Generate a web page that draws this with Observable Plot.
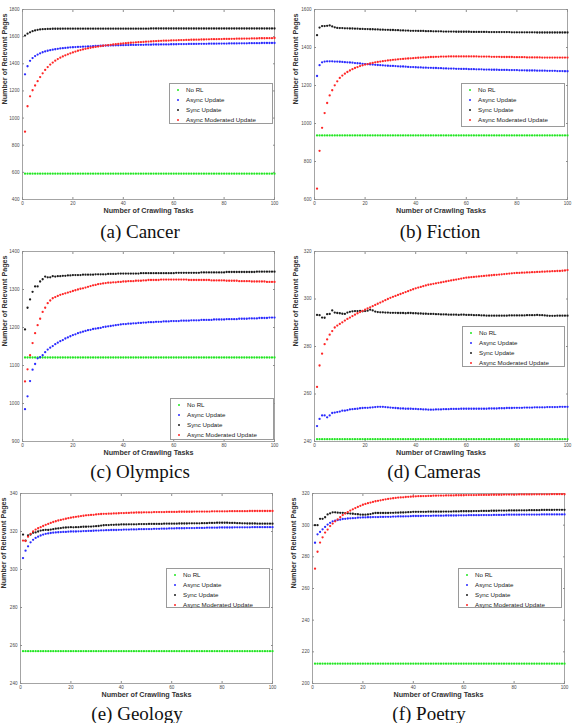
<!DOCTYPE html>
<html><head><meta charset="utf-8">
<script src="https://cdn.jsdelivr.net/npm/d3@7"></script>
<script src="https://cdn.jsdelivr.net/npm/@observablehq/plot@0.6"></script>
<style>
body{margin:0;background:#fff;}
#root{position:relative;width:573px;height:723px;overflow:hidden;font-family:"Liberation Sans",Arial,sans-serif;}
.cell{position:absolute;}
.cell svg{display:block;overflow:visible;}
.legend{position:absolute;background:#fff;border:1px solid #9a9a9a;box-sizing:border-box;font-size:6.2px;color:#222;}
.legend .item{position:absolute;left:0;white-space:nowrap;line-height:8px;height:8px;}
.legend .dot{position:absolute;width:2.4px;height:2.4px;border-radius:50%;top:2.8px;}
.legend .lab{position:absolute;top:0;}
.caption{position:absolute;font-family:"Liberation Serif","Times New Roman",serif;font-size:19px;color:#111;white-space:nowrap;transform:translateX(-50%);line-height:20px;}
</style>
</head><body><div id="root"></div>
<script>
const seriesNames = ["No RL", "Async Update", "Sync Update", "Async Moderated Update"];
const seriesColors = ["#22e622", "#2a2aff", "#1c1c1c", "#ff2626"];
const xTicks = [0, 20, 40, 60, 80, 100];
const captions = ["(a) Cancer", "(b) Fiction", "(c) Olympics", "(d) Cameras", "(e) Geology", "(f) Poetry"];
const yTicksCancer = [400, 600, 800, 1000, 1200, 1400, 1600, 1800];
const yTicksFiction = [600, 800, 1000, 1200, 1400, 1600];
const yTicksOlympics = [900, 1000, 1100, 1200, 1300, 1400];
const yTicksCameras = [240, 260, 280, 300, 320];
const yTicksGeology = [240, 260, 280, 300, 320, 340];
const yTicksPoetry = [200, 220, 240, 260, 280, 300, 320];

// (a) Cancer
const cancerNoRL = [590,590,590,590,590,590,590,590,590,590, 590,590,590,590,590,590,590,590,590,590, 590,590,590,590,590,590,590,590,590,590, 590,590,590,590,590,590,590,590,590,590, 590,590,590,590,590,590,590,590,590,590, 590,590,590,590,590,590,590,590,590,590, 590,590,590,590,590,590,590,590,590,590, 590,590,590,590,590,590,590,590,590,590, 590,590,590,590,590,590,590,590,590,590, 590,590,590,590,590,590,590,590,590,590];
const cancerAsync = [1322,1382,1422,1442,1457,1468,1477,1485,1491,1496, 1500,1504,1507,1510,1513,1515,1517,1519,1521,1522, 1523,1524,1525,1526,1527,1528,1529,1530,1531,1532, 1533,1533,1534,1534,1535,1535,1536,1536,1537,1537, 1538,1538,1539,1539,1539,1540,1540,1540,1541,1541, 1541,1542,1542,1542,1543,1543,1543,1543,1544,1544, 1544,1545,1545,1545,1545,1546,1546,1546,1546,1547, 1547,1547,1547,1548,1548,1548,1548,1549,1549,1549, 1549,1550,1550,1550,1550,1551,1551,1551,1551,1552, 1552,1552,1552,1552,1553,1553,1553,1553,1553,1553];
const cancerSync = [1608,1622,1632,1640,1646,1650,1653,1655,1656,1657, 1657,1658,1658,1658,1658,1659,1659,1659,1659,1659, 1659,1659,1659,1659,1659,1659,1659,1659,1659,1659, 1659,1659,1659,1659,1659,1659,1659,1659,1659,1659, 1659,1659,1659,1659,1659,1659,1659,1659,1659,1659, 1660,1660,1660,1660,1660,1660,1660,1660,1660,1660, 1660,1660,1660,1660,1660,1660,1660,1660,1660,1660, 1660,1660,1660,1660,1660,1660,1660,1660,1660,1660, 1660,1660,1660,1660,1660,1660,1660,1660,1660,1660, 1660,1660,1660,1660,1660,1660,1660,1660,1660,1660];
const cancerModerated = [900,1087,1160,1205,1240,1272,1302,1330,1355,1376, 1394,1409,1423,1435,1445,1454,1462,1470,1477,1484, 1490,1496,1501,1506,1510,1514,1518,1521,1524,1527, 1530,1533,1536,1538,1540,1542,1544,1546,1548,1550, 1552,1553,1555,1556,1558,1559,1560,1561,1563,1564, 1565,1566,1567,1568,1569,1570,1570,1571,1572,1573, 1573,1574,1575,1575,1576,1576,1577,1577,1578,1578, 1579,1579,1580,1580,1581,1581,1581,1582,1582,1583, 1583,1583,1584,1584,1585,1585,1585,1586,1586,1586, 1587,1587,1587,1588,1588,1588,1589,1589,1589,1590];

// (b) Fiction
const fictionNoRL = [937,937,937,937,937,937,937,937,937,937, 937,937,937,937,937,937,937,937,937,937, 937,937,937,937,937,937,937,937,937,937, 937,937,937,937,937,937,937,937,937,937, 937,937,937,937,937,937,937,937,937,937, 937,937,937,937,937,937,937,937,937,937, 937,937,937,937,937,937,937,937,937,937, 937,937,937,937,937,937,937,937,937,937, 937,937,937,937,937,937,937,937,937,937, 937,937,937,937,937,937,937,937,937,937];
const fictionAsync = [1250,1307,1322,1326,1327,1327,1327,1326,1326,1325, 1324,1323,1322,1321,1320,1318,1317,1316,1314,1313, 1312,1311,1310,1309,1308,1307,1306,1305,1304,1303, 1303,1302,1301,1300,1300,1299,1298,1297,1297,1296, 1295,1295,1294,1294,1293,1293,1292,1292,1291,1291, 1290,1290,1289,1289,1289,1288,1288,1287,1287,1287, 1286,1286,1286,1285,1285,1285,1284,1284,1284,1283, 1283,1283,1282,1282,1282,1282,1281,1281,1281,1281, 1280,1280,1280,1279,1279,1279,1279,1278,1278,1278, 1278,1277,1277,1277,1277,1276,1276,1276,1275,1275];
const fictionSync = [1465,1505,1513,1513,1514,1516,1511,1506,1503,1502, 1502,1501,1501,1500,1500,1499,1499,1498,1498,1497, 1497,1496,1496,1495,1495,1494,1494,1493,1493,1492, 1492,1491,1491,1490,1490,1489,1489,1488,1488,1488, 1487,1487,1487,1486,1486,1486,1485,1485,1485,1485, 1484,1484,1484,1484,1484,1483,1483,1483,1483,1483, 1483,1482,1482,1482,1482,1482,1482,1482,1481,1481, 1481,1481,1481,1481,1481,1481,1481,1480,1480,1480, 1480,1480,1480,1480,1480,1480,1480,1479,1479,1479, 1479,1479,1479,1479,1479,1479,1479,1479,1479,1479];
const fictionModerated = [657,856,977,1055,1108,1148,1175,1201,1222,1240, 1252,1262,1271,1279,1286,1292,1297,1302,1306,1310, 1313,1316,1319,1322,1324,1326,1328,1330,1332,1333, 1335,1336,1338,1339,1340,1341,1342,1343,1344,1345, 1346,1347,1348,1348,1349,1350,1350,1351,1351,1352, 1352,1352,1353,1353,1353,1353,1353,1353,1353,1353, 1353,1353,1353,1353,1352,1352,1352,1352,1352,1351, 1351,1351,1351,1350,1350,1350,1350,1350,1349,1349, 1349,1349,1349,1348,1348,1348,1348,1348,1348,1347, 1347,1347,1347,1347,1347,1347,1347,1347,1347,1347];

// (c) Olympics
const olympicsNoRL = [1121,1121,1121,1121,1121,1121,1121,1121,1121,1121, 1121,1121,1121,1121,1121,1121,1121,1121,1121,1121, 1121,1121,1121,1121,1121,1121,1121,1121,1121,1121, 1121,1121,1121,1121,1121,1121,1121,1121,1121,1121, 1121,1121,1121,1121,1121,1121,1121,1121,1121,1121, 1121,1121,1121,1121,1121,1121,1121,1121,1121,1121, 1121,1121,1121,1121,1121,1121,1121,1121,1121,1121, 1121,1121,1121,1121,1121,1121,1121,1121,1121,1121, 1121,1121,1121,1121,1121,1121,1121,1121,1121,1121, 1121,1121,1121,1121,1121,1121,1121,1121,1121,1121];
const olympicsAsync = [985,1019,1059,1089,1104,1119,1122,1127,1135,1142, 1147,1151,1156,1160,1164,1167,1171,1174,1177,1180, 1182,1185,1187,1189,1191,1193,1194,1196,1197,1198, 1199,1201,1202,1203,1204,1205,1206,1207,1208,1209, 1209,1210,1210,1211,1211,1212,1212,1213,1213,1214, 1214,1214,1215,1215,1215,1216,1216,1216,1217,1217, 1217,1217,1218,1218,1218,1218,1219,1219,1219,1219, 1220,1220,1220,1220,1220,1221,1221,1221,1221,1221, 1222,1222,1222,1222,1222,1223,1223,1223,1223,1224, 1224,1224,1224,1225,1225,1225,1225,1226,1226,1226];
const olympicsSync = [1195,1252,1274,1294,1308,1308,1321,1327,1334,1332, 1332,1335,1334,1335,1335,1336,1336,1337,1337,1338, 1338,1338,1338,1339,1339,1339,1339,1339,1340,1340, 1340,1340,1340,1341,1341,1341,1341,1342,1342,1342, 1342,1342,1342,1342,1342,1342,1343,1343,1343,1343, 1343,1343,1343,1343,1343,1343,1343,1343,1343,1343, 1344,1344,1344,1344,1344,1344,1344,1344,1344,1344, 1345,1345,1345,1345,1345,1345,1345,1345,1345,1345, 1346,1346,1346,1346,1346,1346,1346,1346,1346,1346, 1346,1346,1347,1347,1347,1347,1347,1347,1347,1347];
const olympicsModerated = [1058,1090,1127,1159,1185,1206,1223,1241,1252,1264, 1271,1277,1280,1283,1286,1288,1290,1292,1294,1296, 1298,1300,1302,1303,1305,1307,1309,1311,1312,1314, 1315,1316,1317,1318,1318,1319,1319,1320,1320,1321, 1321,1322,1322,1322,1323,1323,1323,1324,1324,1325, 1325,1325,1325,1325,1326,1326,1326,1326,1326,1326, 1326,1326,1326,1326,1326,1325,1325,1325,1325,1325, 1325,1325,1325,1325,1324,1324,1324,1324,1324,1324, 1323,1323,1323,1323,1323,1322,1322,1322,1322,1322, 1321,1321,1321,1321,1321,1321,1320,1320,1320,1320];

// (d) Cameras
const camerasNoRL = [241,241,241,241,241,241,241,241,241,241, 241,241,241,241,241,241,241,241,241,241, 241,241,241,241,241,241,241,241,241,241, 241,241,241,241,241,241,241,241,241,241, 241,241,241,241,241,241,241,241,241,241, 241,241,241,241,241,241,241,241,241,241, 241,241,241,241,241,241,241,241,241,241, 241,241,241,241,241,241,241,241,241,241, 241,241,241,241,241,241,241,241,241,241, 241,241,241,241,241,241,241,241,241,241];
const camerasAsync = [246.5,249.5,251,251,250.2,251,252,252.2,252.4,252.6, 253,253,253.2,253.5,253.6,253.7,253.8,254,254.1,254.2, 254.2,254.3,254.4,254.5,254.6,254.6,254.6,254.5,254.4,254.3, 254.2,254.1,254,253.9,253.9,253.8,253.8,253.8,253.7,253.7, 253.6,253.6,253.5,253.5,253.4,253.4,253.4,253.5,253.5,253.5, 253.6,253.6,253.6,253.7,253.7,253.7,253.7,253.8,253.8,253.8, 253.8,253.8,253.8,253.8,253.8,253.8,253.8,253.8,253.9,253.9, 253.9,253.9,254,254,254,254.1,254.1,254.1,254.2,254.2, 254.2,254.2,254.3,254.3,254.3,254.3,254.4,254.4,254.4,254.4, 254.4,254.5,254.5,254.5,254.5,254.5,254.6,254.6,254.6,254.6];
const camerasSync = [293.3,293.2,292.2,292.1,293.6,293.7,295.2,294.3,294.1,294, 293.8,293.7,294.3,294.6,294.8,294.9,294.9,295,294.8,294.9, 295.1,295.5,295.2,294.7,294.5,294.4,294.4,294.3,294.3,294.2, 294.2,294.2,294.1,294.1,294.1,294,294.1,294.1,294,294, 293.9,293.9,293.8,293.8,293.7,293.7,293.7,293.6,293.6,293.5, 293.5,293.5,293.4,293.4,293.4,293.4,293.3,293.4,293.4,293.3, 293.3,293.3,293.2,293.2,293.2,293.1,293.1,293,293,293, 293,293,293,293,293,293,293.1,293.1,293.1,293.1, 293.1,293.1,293.1,293.2,293.2,293.2,293.2,293.3,293.2,293.2, 293.1,293,292.9,292.9,292.9,293,293,293,293,293];
const camerasModerated = [263,272,277,281,283,285,286.5,288,288.8,289.5, 290.2,290.9,291.6,292.2,292.8,293.4,294,294.5,295,295.5, 296,296.5,297,297.5,298,298.5,299,299.5,300,300.5, 300.9,301.3,301.7,302.1,302.5,302.9,303.3,303.7,304.1,304.5, 304.8,305.1,305.4,305.7,306,306.2,306.4,306.6,306.8,307, 307.2,307.4,307.6,307.8,308,308.2,308.4,308.6,308.8,309, 309.1,309.2,309.3,309.4,309.5,309.6,309.7,309.8,309.9,310, 310.1,310.2,310.3,310.4,310.5,310.6,310.7,310.8,310.9,311, 311,311.1,311.1,311.2,311.2,311.3,311.3,311.4,311.4,311.5, 311.5,311.6,311.6,311.7,311.7,311.8,311.8,311.9,312,312.2];

// (e) Geology
const geologyNoRL = [257,257,257,257,257,257,257,257,257,257, 257,257,257,257,257,257,257,257,257,257, 257,257,257,257,257,257,257,257,257,257, 257,257,257,257,257,257,257,257,257,257, 257,257,257,257,257,257,257,257,257,257, 257,257,257,257,257,257,257,257,257,257, 257,257,257,257,257,257,257,257,257,257, 257,257,257,257,257,257,257,257,257,257, 257,257,257,257,257,257,257,257,257,257, 257,257,257,257,257,257,257,257,257,257];
const geologyAsync = [306,309.9,312.2,314.3,315.6,316.6,317.3,317.9,318.4,318.8, 319,319.2,319.4,319.5,319.6,319.7,319.8,319.8,319.9,320, 320,320,320.1,320.1,320.2,320.2,320.3,320.3,320.4,320.5, 320.5,320.6,320.6,320.7,320.7,320.8,320.8,320.8,320.9,320.9, 321,321,321,321.1,321.1,321.1,321.2,321.2,321.2,321.3, 321.3,321.3,321.4,321.4,321.4,321.5,321.5,321.5,321.6,321.6, 321.6,321.7,321.7,321.7,321.7,321.8,321.8,321.8,321.8,321.9, 321.9,321.9,321.9,322,322,322,322,322,322.1,322.1, 322.1,322.1,322.1,322.1,322.2,322.2,322.2,322.2,322.2,322.2, 322.2,322.3,322.3,322.3,322.3,322.3,322.3,322.3,322.3,322.3];
const geologySync = [318.4,315.2,317.9,318.4,319.3,319.5,320,320.5,320.7,320.9, 320.8,321,321.2,321.5,321.6,321.8,322,322.1,322.2,322.3, 322.2,322.3,322.3,322.4,322.5,322.5,322.6,322.6,322.7,322.8, 322.9,323.1,323.3,323.4,323.4,323.5,323.5,323.6,323.6,323.7, 323.7,323.7,323.8,323.8,323.8,323.8,323.9,323.9,323.9,323.9, 324,324,324,324,324,324,324.1,324.1,324.1,324.1, 324.1,324.1,324.2,324.2,324.2,324.2,324.3,324.3,324.3,324.3, 324.3,324.4,324.4,324.4,324.5,324.5,324.5,324.6,324.6,324.6, 324.6,324.6,324.5,324.5,324.5,324.4,324.4,324.3,324.3,324.2, 324.2,324.2,324.2,324.1,324.1,324.1,324.1,324.1,324.1,324.1];
const geologyModerated = [315.2,315,317.3,318.8,320,321,321.7,322.3,322.9,323.5, 324,324.5,325,325.4,325.8,326.1,326.4,326.7,327,327.3, 327.5,327.7,327.9,328.1,328.3,328.5,328.6,328.7,328.8,329, 329.1,329.2,329.3,329.3,329.4,329.4,329.5,329.5,329.6,329.7, 329.7,329.8,329.8,329.9,329.9,330,330,330,330.1,330.1, 330.1,330.1,330.2,330.2,330.2,330.2,330.2,330.3,330.3,330.3, 330.3,330.3,330.4,330.4,330.4,330.4,330.4,330.4,330.5,330.5, 330.5,330.5,330.5,330.5,330.5,330.6,330.6,330.6,330.6,330.6, 330.6,330.6,330.7,330.7,330.7,330.7,330.7,330.7,330.7,330.7, 330.8,330.8,330.8,330.8,330.8,330.8,330.8,330.8,330.8,330.8];

// (f) Poetry
const poetryNoRL = [212.5,212.5,212.5,212.5,212.5,212.5,212.5,212.5,212.5,212.5, 212.5,212.5,212.5,212.5,212.5,212.5,212.5,212.5,212.5,212.5, 212.5,212.5,212.5,212.5,212.5,212.5,212.5,212.5,212.5,212.5, 212.5,212.5,212.5,212.5,212.5,212.5,212.5,212.5,212.5,212.5, 212.5,212.5,212.5,212.5,212.5,212.5,212.5,212.5,212.5,212.5, 212.5,212.5,212.5,212.5,212.5,212.5,212.5,212.5,212.5,212.5, 212.5,212.5,212.5,212.5,212.5,212.5,212.5,212.5,212.5,212.5, 212.5,212.5,212.5,212.5,212.5,212.5,212.5,212.5,212.5,212.5, 212.5,212.5,212.5,212.5,212.5,212.5,212.5,212.5,212.5,212.5, 212.5,212.5,212.5,212.5,212.5,212.5,212.5,212.5,212.5,212.5];
const poetryAsync = [288.9,294.2,295.7,297.4,298.9,300.4,301.5,302.4,302.8,303.2, 303.5,303.9,304,304.2,304.3,304.4,304.5,304.7,304.8,304.9, 304.9,305,305,305.1,305.1,305.1,305.2,305.2,305.3,305.3, 305.3,305.4,305.4,305.5,305.5,305.5,305.6,305.6,305.7,305.8, 305.8,305.8,305.8,305.9,305.9,305.9,305.9,306,306,306, 306,306,306.1,306.1,306.1,306.1,306.1,306.2,306.2,306.2, 306.2,306.3,306.3,306.3,306.3,306.3,306.4,306.4,306.4,306.4, 306.4,306.5,306.5,306.5,306.5,306.5,306.6,306.6,306.6,306.6, 306.6,306.6,306.7,306.7,306.7,306.7,306.7,306.7,306.7,306.7, 306.8,306.8,306.8,306.8,306.8,306.8,306.8,306.8,306.8,306.8];
const poetrySync = [300,300,304,304,305,306.8,307.5,308.1,308.1,307.9, 307.8,307.8,307.6,307.5,307.3,307.2,307,306.9,306.7,306.6, 306.6,306.8,307,307.4,307.7,307.7,307.7,307.7,307.7,307.7, 307.8,307.8,307.9,307.9,308,308,308.1,308.2,308.3,308.4, 308.4,308.4,308.4,308.4,308.4,308.5,308.5,308.5,308.5,308.5, 308.5,308.6,308.6,308.6,308.6,308.7,308.7,308.7,308.8,308.8, 308.8,308.8,308.8,308.9,308.9,308.9,309,309,309,309, 309.1,309.1,309.1,309.2,309.2,309.2,309.2,309.3,309.3,309.3, 309.3,309.4,309.4,309.4,309.4,309.5,309.5,309.5,309.5,309.5, 309.6,309.6,309.6,309.6,309.6,309.7,309.7,309.7,309.7,309.7];
const poetryModerated = [272.5,283.2,289,292.3,295.3,297.2,299.4,301,302.4,303.6, 305,306.4,307.4,308.3,309.2,310,310.8,311.5,312.2,312.9, 313.4,313.9,314.3,314.7,315.1,315.4,315.7,316,316.3,316.6, 316.8,317,317.2,317.4,317.5,317.6,317.8,317.9,318,318.1, 318.2,318.3,318.3,318.4,318.4,318.5,318.5,318.6,318.6,318.7, 318.7,318.7,318.8,318.8,318.8,318.8,318.9,318.9,318.9,318.9, 319,319,319,319,319,319.1,319.1,319.1,319.1,319.1, 319.2,319.2,319.2,319.2,319.2,319.3,319.3,319.3,319.3,319.3, 319.3,319.4,319.4,319.4,319.4,319.4,319.4,319.5,319.5,319.5, 319.5,319.5,319.5,319.5,319.6,319.6,319.6,319.6,319.6,319.6];

const panels = [
  {caption: captions[0], series: [cancerNoRL, cancerAsync, cancerSync, cancerModerated], yTicks: yTicksCancer},
  {caption: captions[1], series: [fictionNoRL, fictionAsync, fictionSync, fictionModerated], yTicks: yTicksFiction},
  {caption: captions[2], series: [olympicsNoRL, olympicsAsync, olympicsSync, olympicsModerated], yTicks: yTicksOlympics},
  {caption: captions[3], series: [camerasNoRL, camerasAsync, camerasSync, camerasModerated], yTicks: yTicksCameras},
  {caption: captions[4], series: [geologyNoRL, geologyAsync, geologySync, geologyModerated], yTicks: yTicksGeology},
  {caption: captions[5], series: [poetryNoRL, poetryAsync, poetrySync, poetryModerated], yTicks: yTicksPoetry}
];

// layout (pixels) for each panel cell
const layout = [
  {left: 0,   top: 0,   width: 286, ml: 22, mr: 12, ydx: -18, legend: {x: 169, y: 83,  w: 104, h: 41}, capX: 140, capY: 222},
  {left: 286, top: 0,   width: 287, ml: 28, mr: 6,  ydx: -19, legend: {x: 175, y: 83,  w: 104, h: 44}, capX: 154, capY: 222},
  {left: 0,   top: 242, width: 286, ml: 22, mr: 12, ydx: -18, legend: {x: 170, y: 156, w: 104, h: 42}, capX: 140, capY: 220},
  {left: 286, top: 242, width: 287, ml: 28, mr: 6,  ydx: -19, legend: {x: 176, y: 84,  w: 103, h: 41}, capX: 148, capY: 220},
  {left: 0,   top: 484, width: 286, ml: 20, mr: 14, ydx: -17, legend: {x: 166, y: 84,  w: 104, h: 40}, capX: 137, capY: 220},
  {left: 286, top: 484, width: 287, ml: 26, mr: 9,  ydx: -19, legend: {x: 172, y: 84,  w: 104, h: 40}, capX: 143, capY: 220}
];

const root = document.getElementById("root");
const font = "Liberation Sans, Arial, Helvetica, sans-serif";
const plainNum = d => String(d);

panels.forEach((p, k) => {
  const L = layout[k];
  const rows = [];
  p.series.forEach((vals, s) => vals.forEach((v, i) => rows.push({task: i + 1, pages: v, key: seriesNames[s]})));
  const yDomain = [p.yTicks[0], p.yTicks[p.yTicks.length - 1]];
  const axisText = {fontSize: 4.6, fill: "#4a4a4a"};
  const chart = Plot.plot({
    width: L.width, height: 222,
    marginLeft: L.ml, marginRight: L.mr, marginTop: 9, marginBottom: 23,
    style: {fontFamily: font, background: "transparent", overflow: "visible"},
    x: {domain: [0, 100]},
    y: {domain: yDomain},
    color: {domain: seriesNames, range: seriesColors},
    marks: [
      Plot.frame({stroke: "#8e8e8e", strokeWidth: 0.8}),
      Plot.axisX({ticks: xTicks, anchor: "bottom", tickSize: 0, tickPadding: 2, tickFormat: plainNum, label: null, ...axisText}),
      Plot.axisX({ticks: xTicks, anchor: "bottom", tickSize: -2, tickFormat: () => "", label: null, stroke: "#8e8e8e"}),
      Plot.axisX({ticks: xTicks, anchor: "top", tickSize: -2, tickFormat: () => "", label: null, stroke: "#8e8e8e"}),
      Plot.axisY({ticks: p.yTicks, anchor: "left", tickSize: 0, tickPadding: 3, tickFormat: plainNum, label: null, ...axisText}),
      Plot.axisY({ticks: p.yTicks, anchor: "left", tickSize: -2, tickFormat: () => "", label: null, stroke: "#8e8e8e"}),
      Plot.axisY({ticks: p.yTicks, anchor: "right", tickSize: -2, tickFormat: () => "", label: null, stroke: "#8e8e8e"}),
      Plot.dot(rows, {x: "task", y: "pages", fill: "key", r: 1.15, stroke: null}),
      Plot.text(["Number of Crawling Tasks"], {frameAnchor: "bottom", dy: 13.5, fontSize: 7.2, fontWeight: "bold", fill: "#333"}),
      Plot.text(["Number of Relevant Pages"], {frameAnchor: "left", dx: L.ydx, rotate: -90, fontSize: 7.2, fontWeight: "bold", fill: "#333"})
    ]
  });
  const cell = document.createElement("div");
  cell.className = "cell";
  cell.style.left = L.left + "px";
  cell.style.top = L.top + "px";
  cell.style.width = L.width + "px";
  cell.style.height = "242px";
  cell.appendChild(chart);

  const lg = document.createElement("div");
  lg.className = "legend";
  lg.style.left = L.legend.x + "px";
  lg.style.top = L.legend.y + "px";
  lg.style.width = L.legend.w + "px";
  lg.style.height = L.legend.h + "px";
  seriesNames.forEach((name, s) => {
    const it = document.createElement("div");
    it.className = "item";
    it.style.top = (2 + s * 10) + "px";
    const d = document.createElement("div");
    d.className = "dot";
    d.style.left = "7px";
    d.style.background = seriesColors[s];
    const t = document.createElement("div");
    t.className = "lab";
    t.style.left = "16px";
    t.textContent = name;
    it.appendChild(d); it.appendChild(t);
    lg.appendChild(it);
  });
  cell.appendChild(lg);

  const cap = document.createElement("div");
  cap.className = "caption";
  cap.style.left = L.capX + "px";
  cap.style.top = L.capY + "px";
  cap.textContent = p.caption;
  cell.appendChild(cap);

  root.appendChild(cell);
});
</script>
</body></html>
